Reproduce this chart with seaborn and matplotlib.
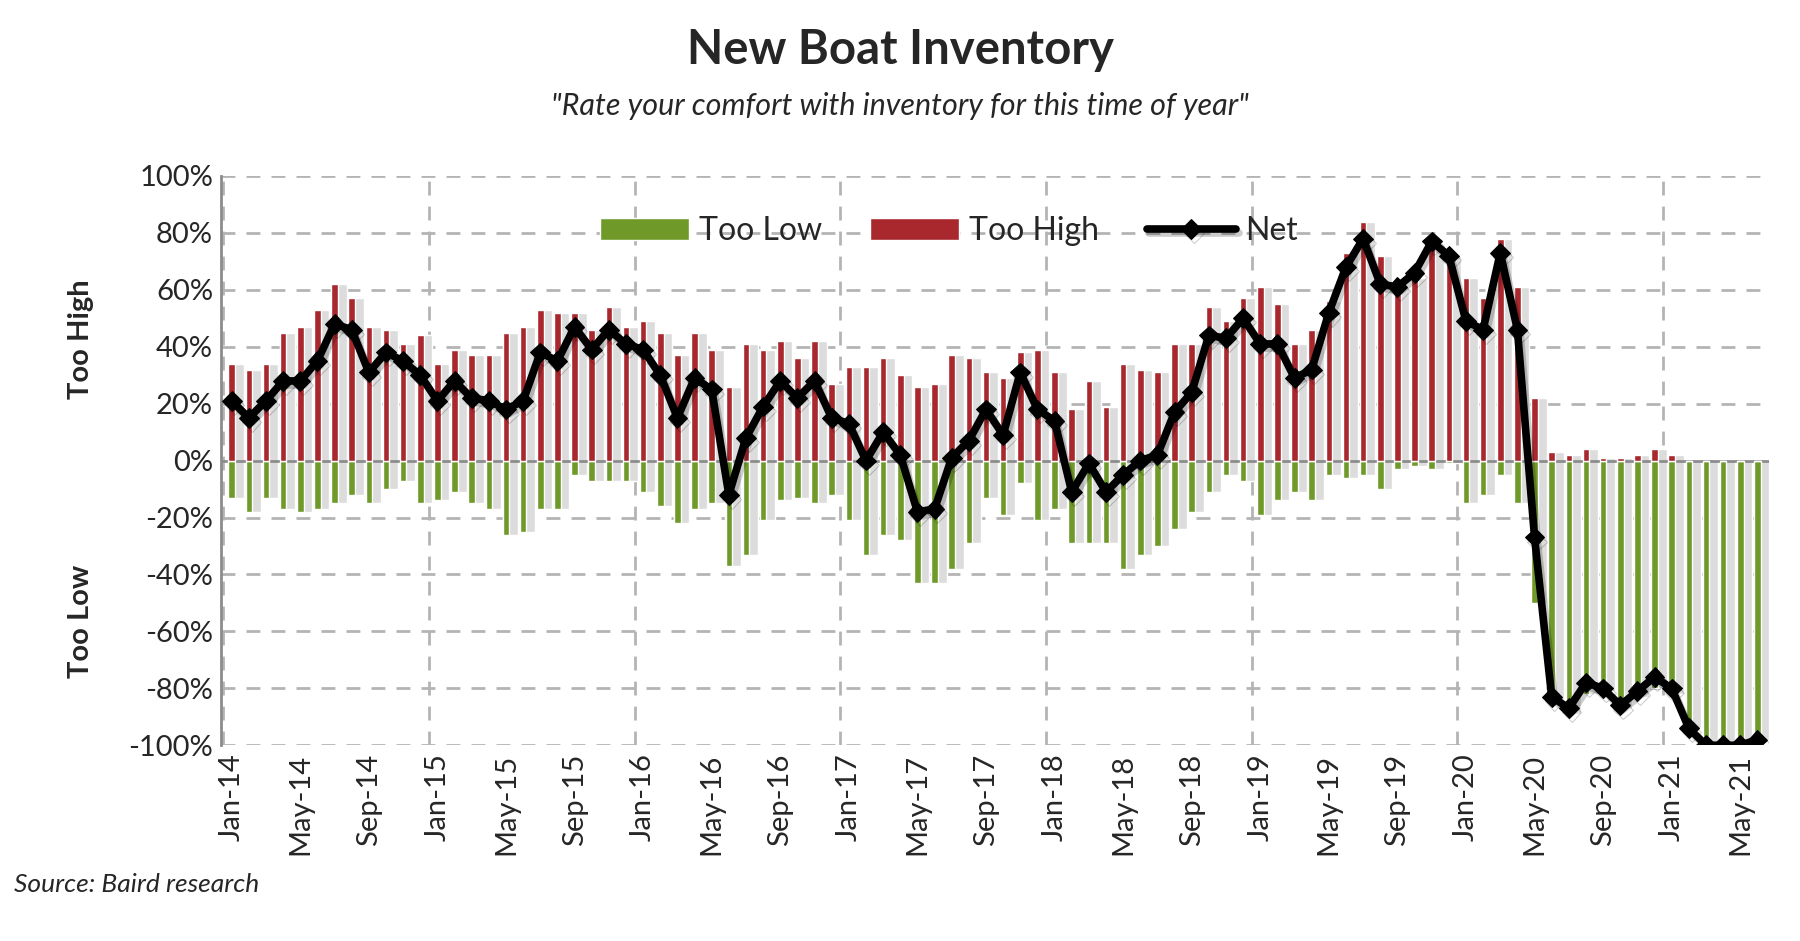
import numpy as np
import pandas as pd
import matplotlib.pyplot as plt
import matplotlib.patheffects as pe
import seaborn as sns

# monthly survey, Jan-14 .. Jun-21 (values in %)
too_high = [34, 32, 34, 45, 47, 53, 62, 57, 47, 46, 41, 44,
            34, 39, 37, 37, 45, 47, 53, 52, 52, 46, 54, 47,
            49, 45, 37, 45, 39, 26, 41, 39, 42, 36, 42, 27,
            33, 33, 36, 30, 26, 27, 37, 36, 31, 29, 38, 39,
            31, 18, 28, 19, 34, 32, 31, 41, 41, 54, 49, 57,
            61, 55, 41, 46, 56, 73, 84, 72, 61, 64, 75, 72,
            64, 57, 78, 61, 22, 3, 2, 4, 1, 1, 2, 4,
            2, 0, 0, 0, 0, 0]
too_low = [-13, -18, -13, -17, -18, -17, -15, -12, -15, -10, -7, -15,
           -14, -11, -15, -17, -26, -25, -17, -17, -5, -7, -7, -7,
           -11, -16, -22, -17, -15, -37, -33, -21, -14, -13, -15, -12,
           -21, -33, -26, -28, -43, -43, -38, -29, -13, -19, -8, -21,
           -17, -29, -29, -29, -38, -33, -30, -24, -18, -11, -5, -7,
           -19, -14, -11, -14, -5, -6, -5, -10, -3, -2, -3, -1,
           -15, -12, -5, -15, -50, -86, -89, -82, -81, -87, -83, -80,
           -82, -94, -100, -100, -100, -98]
net = [21, 15, 21, 28, 28, 35, 48, 46, 31, 38, 35, 30,
       21, 28, 22, 21, 18, 21, 38, 35, 47, 39, 46, 41,
       39, 30, 15, 29, 25, -12, 8, 19, 28, 22, 28, 15,
       13, 0, 10, 2, -18, -17, 1, 7, 18, 9, 31, 18,
       14, -11, -1, -11, -5, 0, 2, 17, 24, 44, 43, 50,
       41, 41, 29, 32, 52, 68, 78, 62, 61, 66, 77, 72,
       49, 46, 73, 46, -27, -83, -87, -78, -80, -86, -81, -76,
       -80, -94, -100, -100, -100, -98]
months = pd.date_range("2014-01-01", periods=len(net), freq="MS")
tick_labels = [m.strftime("%b-%y") for m in months]

GREEN = "#6f9a2a"
RED = "#a8282e"
GRID = "#b4b4b4"

sns.set_style("white")
plt.rcParams["font.family"] = ["Lato", "DejaVu Sans"]

fig = plt.figure(figsize=(18, 9.41), dpi=100)
ax = fig.add_axes([0.123, 0.208, 0.86, 0.605])

df = pd.DataFrame({"x": np.arange(len(net)), "high": too_high, "low": too_low, "net": net})

# light grey "shadow" bars behind
ax.bar(df["x"] + 0.25, df["high"], width=0.9, color="#dcdcdc", zorder=1)
ax.bar(df["x"] + 0.25, df["low"], width=0.9, color="#dcdcdc", zorder=1)

sns.barplot(data=df, x="x", y="low", native_scale=True, width=0.38,
            color=GREEN, saturation=1, ax=ax, label="Too Low", zorder=3)
sns.barplot(data=df, x="x", y="high", native_scale=True, width=0.38,
            color=RED, saturation=1, ax=ax, label="Too High", zorder=3)
sns.lineplot(data=df, x="x", y="net", color="black", lw=5.5, marker="D",
             markersize=10, markeredgecolor="black", ax=ax, label="Net", zorder=5,
             path_effects=[pe.SimpleLineShadow(offset=(2, -3), alpha=0.2,
                                               shadow_color="black"), pe.Normal()])

ax.axhline(0, color="#8c8c8c", lw=2, zorder=2)
ax.set_ylim(-100, 100)
ax.set_xlim(-0.6, len(net) - 0.3)
ax.set_yticks(range(-100, 101, 20))
ax.set_yticklabels([f"{v}%" for v in range(-100, 101, 20)], fontsize=21)
ax.set_xticks(range(0, len(net), 4))
ax.set_xticklabels(tick_labels[::4], rotation=90, fontsize=21)
ax.tick_params(length=0, pad=6)

for y in range(-100, 101, 20):
    if y != 0:
        ax.axhline(y, color=GRID, lw=2, ls=(0, (5, 4)), zorder=0)
for xv in range(0, len(net), 12):
    ax.axvline(xv - 0.5, color=GRID, lw=2, ls=(0, (5, 4)), zorder=0)

for s in ["top", "right", "bottom"]:
    ax.spines[s].set_visible(False)
ax.spines["left"].set_color("#8c8c8c")
ax.spines["left"].set_linewidth(2)
ax.set_xlabel("")
ax.set_ylabel("")

handles, labels = ax.get_legend_handles_labels()
order = [labels.index(k) for k in ["Too Low", "Too High", "Net"]]
ax.legend([handles[i] for i in order], [labels[i] for i in order],
          loc="upper center", bbox_to_anchor=(0.47, 0.98), ncol=3, frameon=False,
          fontsize=23, handlelength=2.8, handletextpad=0.3, columnspacing=1.5)

fig.text(0.5, 0.947, "New Boat Inventory", ha="center", va="center",
         fontsize=34, fontweight="bold")
fig.text(0.5, 0.887, '"Rate your comfort with inventory for this time of year"',
         ha="center", va="center", fontsize=22, style="italic")
fig.text(0.045, 0.64, "Too High", rotation=90, ha="center", va="center",
         fontsize=21, fontweight="bold")
fig.text(0.045, 0.34, "Too Low", rotation=90, ha="center", va="center",
         fontsize=21, fontweight="bold")
fig.text(0.008, 0.06, "Source: Baird research", ha="left", va="center",
         fontsize=19, style="italic")

fig.savefig("out.png", dpi=100)
